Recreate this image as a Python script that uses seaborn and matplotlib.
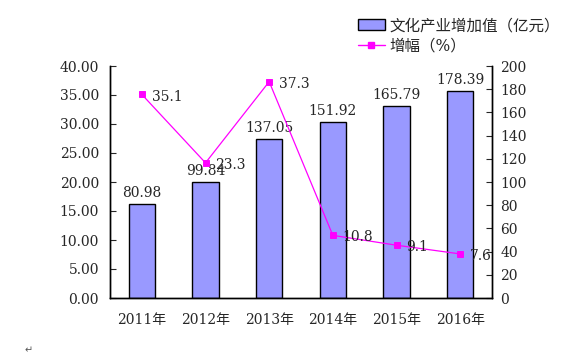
import numpy as np
import pandas as pd
import seaborn as sns
import matplotlib.pyplot as plt
from matplotlib.patches import Patch
from matplotlib.lines import Line2D
from matplotlib.ticker import FormatStrFormatter, FixedLocator

# data
years = ['2011年', '2012年', '2013年', '2014年', '2015年', '2016年']
added_value = [80.98, 99.84, 137.05, 151.92, 165.79, 178.39]   # 亿元, right axis
growth = [35.1, 23.3, 37.3, 10.8, 9.1, 7.6]                    # %, left axis

df = pd.DataFrame({'年份': years, '增加值': added_value, '增幅': growth})

sns.set_style('white')
plt.rcParams['font.family'] = ['DejaVu Serif', 'Noto Sans CJK SC', 'DejaVu Sans']

fig = plt.figure(figsize=(5.82, 3.59), dpi=100)
ax = fig.add_axes([110/582, 1-298/359, 382/582, 232/359])
ax2 = ax.twinx()

bar_color = '#9999FF'
line_color = '#FF00FF'
fs = 10

sns.barplot(data=df, x='年份', y='增加值', ax=ax2, color=bar_color,
            edgecolor='black', linewidth=1.0, width=0.41, saturation=1)
ax2.bar_label(ax2.containers[0], fmt='%.2f', padding=3, fontsize=fs)

sns.pointplot(data=df, x='年份', y='增幅', ax=ax, color=line_color,
              markers='s', markersize=4, linewidth=0.9)
for i, v in enumerate(growth):
    ax.annotate(f'{v}', (i, v), xytext=(7, -1.5), textcoords='offset points',
                ha='left', va='center', fontsize=fs)

ax.set_zorder(ax2.get_zorder() + 1)
ax.patch.set_visible(False)

ax.set_ylim(0, 40)
ax.set_yticks(np.arange(0, 40.1, 5))
ax.yaxis.set_major_formatter(FormatStrFormatter('%.2f'))
ax2.set_ylim(0, 200)
ax2.set_yticks(np.arange(0, 201, 20))
ax.set_xlim(-0.5, 5.5)

ax.set_xlabel('')
ax.set_ylabel('')
ax2.set_xlabel('')
ax2.set_ylabel('')

for a in (ax, ax2):
    a.spines['top'].set_visible(False)
    for s in ('left', 'right', 'bottom'):
        a.spines[s].set_color('black')
        a.spines[s].set_linewidth(1.0)

ax.tick_params(axis='y', direction='in', length=4, width=0.8, labelsize=fs, pad=8)
ax2.tick_params(axis='y', direction='in', length=4, width=0.8, labelsize=fs, pad=6)
ax.tick_params(axis='x', which='major', length=0, labelsize=fs, pad=11)
ax.xaxis.set_minor_locator(FixedLocator(np.arange(0.5, 5.5, 1)))
ax.tick_params(axis='x', which='minor', direction='in', length=4, width=0.8)
ax2.tick_params(axis='x', length=0, labelbottom=False)

handles = [Patch(facecolor=bar_color, edgecolor='black', linewidth=1.0),
           Line2D([0], [0], color=line_color, marker='s', markersize=4, linewidth=1.0)]
fig.legend(handles, ['文化产业增加值（亿元）', '增幅（%）'],
           loc='upper left', bbox_to_anchor=(352/582, 1-11/359), frameon=False,
           fontsize=11.2, handlelength=1.7, handletextpad=0.3, labelspacing=0.2,
           borderaxespad=0)

fig.text(25/582, 1-353/359, '↵', fontsize=7, color='#555555', family=['DejaVu Sans'])

fig.savefig('out.png', dpi=100)
